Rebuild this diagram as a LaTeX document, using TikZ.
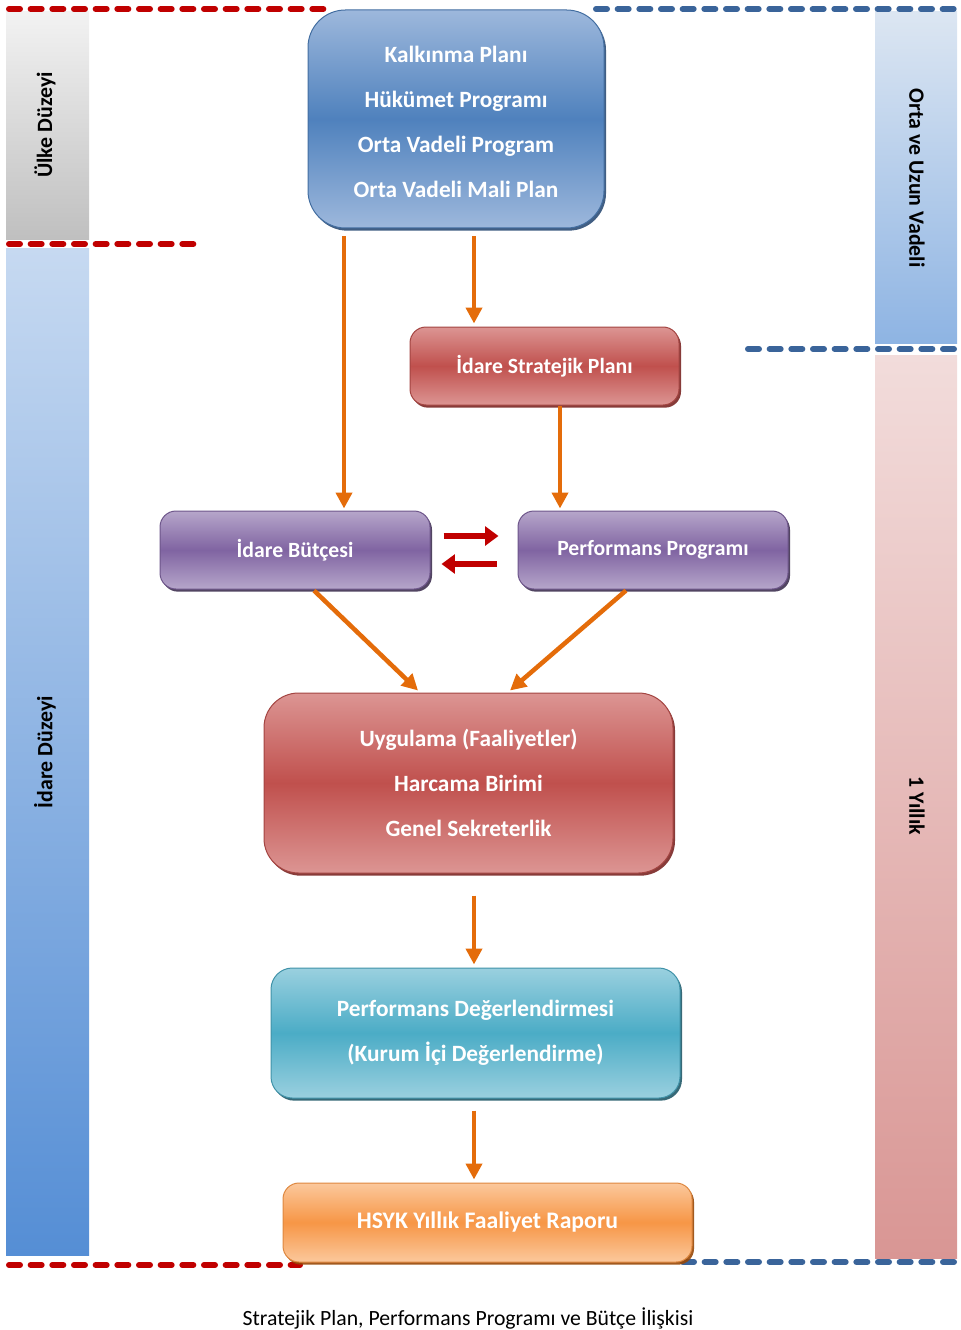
\documentclass[tikz,border=0pt]{standalone}
\usepackage{fontspec}
\setmainfont{Carlito}
\usetikzlibrary{calc,shadows,arrows.meta}
\definecolor{dred}{HTML}{C00000}
\definecolor{dblue}{HTML}{3A649A}
\definecolor{oarr}{HTML}{E46C0A}
\definecolor{bluel}{HTML}{9DB8DC}
\definecolor{bluem}{HTML}{4F81BD}
\definecolor{blued}{HTML}{2C4D75}
\definecolor{redl}{HTML}{DC9593}
\definecolor{redm}{HTML}{C0504D}
\definecolor{redd}{HTML}{7A2624}
\definecolor{purl}{HTML}{B6A6CA}
\definecolor{purm}{HTML}{8064A2}
\definecolor{purd}{HTML}{3F3151}
\definecolor{teal}{HTML}{9AD0DF}
\definecolor{tealm}{HTML}{4BACC6}
\definecolor{teald}{HTML}{215968}
\definecolor{orl}{HTML}{FBC89C}
\definecolor{orm}{HTML}{F79646}
\definecolor{ord}{HTML}{984807}
\tikzset{
  reddash/.style={draw=dred,line width=4.5pt,dash pattern=on 8.25pt off 8pt,line cap=round},
  bluedash/.style={draw=dblue,line width=4.5pt,dash pattern=on 8.25pt off 8pt,line cap=round},
  box/.style={rectangle,align=center,inner sep=0pt,text=white,line width=0.75pt,
    font=\bfseries\fontsize{17.5}{33.75}\selectfont},
  smallfont/.style={font=\bfseries\fontsize{16.3}{18}\selectfont},
  bluebox/.style={box,rounded corners=28pt,top color=bluel,bottom color=bluel,middle color=bluem,draw=bluem!85!black,
    drop shadow={shadow xshift=1.5pt,shadow yshift=-2pt,fill=blued,opacity=0.9}},
  redbox/.style={box,rounded corners=12pt,top color=redl,bottom color=redl,middle color=redm,draw=redm!85!black,
    drop shadow={shadow xshift=1.5pt,shadow yshift=-2pt,fill=redd,opacity=0.9}},
  purbox/.style={box,rounded corners=12pt,top color=purl,bottom color=purl,middle color=purm,draw=purm!85!black,
    drop shadow={shadow xshift=1.5pt,shadow yshift=-2pt,fill=purd,opacity=0.9}},
  tealbox/.style={box,rounded corners=16pt,top color=teal,bottom color=teal,middle color=tealm,draw=tealm!85!black,
    drop shadow={shadow xshift=1.5pt,shadow yshift=-2pt,fill=teald,opacity=0.9}},
  orbox/.style={box,rounded corners=12pt,top color=orl,bottom color=orl,middle color=orm,draw=orm!90!black,
    drop shadow={shadow xshift=1.5pt,shadow yshift=-2pt,fill=ord,opacity=0.9}},
  oarrow/.style={draw=oarr,line width=3.4pt,-{Triangle[length=12pt,width=12pt]}},
  rarrow/.style={draw=dred,line width=4.5pt,-{Triangle[length=10pt,width=14pt]}},
  sidelabel/.style={font=\bfseries\fontsize{16.4}{18}\selectfont,text=black},
}
\begin{document}
\begin{tikzpicture}[x=0.75pt,y=-0.75pt]
\useasboundingbox (0,0) rectangle (960,1330);
% side bars
\shade[top color=black!5,bottom color=black!25] (6,12) rectangle (89,240);
\shade[top color={rgb,255:red,198;green,217;blue,241},bottom color={rgb,255:red,85;green,142;blue,213}] (6,248) rectangle (89,1255);
\shade[top color={rgb,255:red,220;green,230;blue,242},bottom color={rgb,255:red,142;green,180;blue,227}] (875,12) rectangle (957,343);
\shade[top color={rgb,255:red,242;green,220;blue,219},bottom color={rgb,255:red,217;green,150;blue,148}] (875,355) rectangle (957,1258);
\node[sidelabel,rotate=90] (ulke) at (45,125) {Ülke Düzeyi};
\node[sidelabel,rotate=90] (idare) at (45,752) {İdare Düzeyi};
\node[sidelabel,rotate=-90] (orta) at (917,178) {Orta ve Uzun Vadeli};
\node[sidelabel,rotate=-90] (yillik) at (917,806) {1 Yıllık};
% dashed lines
\draw[reddash] (9,9) -- (324,9);
\draw[reddash] (9,244) -- (194,244);
\draw[reddash] (9,1265) -- (300,1265);
\draw[bluedash] (596,9) -- (955,9);
\draw[bluedash] (748,349) -- (955,349);
\draw[bluedash] (683,1262) -- (955,1262);
% boxes
\node[bluebox,minimum width=222pt,minimum height=163.5pt] (top) at (456,119)
  {\rule{0pt}{17pt}Kalkınma Planı\\Hükümet Programı\\Orta Vadeli Program\\Orta Vadeli Mali Plan};
\node[redbox,smallfont,minimum width=201.75pt,minimum height=58.5pt] (sp) at (544.5,366) {İdare Stratejik Planı};
\node[purbox,smallfont,minimum width=202.5pt,minimum height=58.5pt] (bud) at (295,550) {İdare Bütçesi};
\node[purbox,smallfont,minimum width=202.5pt,minimum height=58.5pt] (pp) at (653,550) {Performans Programı};
\node[redbox,rounded corners=26pt,minimum width=306.75pt,minimum height=135pt] (uyg) at (468.5,783)
  {Uygulama (Faaliyetler)\\Harcama Birimi\\Genel Sekreterlik};
\node[tealbox,minimum width=306.75pt,minimum height=97.5pt] (pd) at (475.5,1033)
  {Performans Değerlendirmesi\\(Kurum İçi Değerlendirme)};
\node[orbox,font=\bfseries\fontsize{17.8}{20}\selectfont,minimum width=306.75pt,minimum height=59.25pt] (hsyk) at (487.5,1222.5) {HSYK Yıllık Faaliyet Raporu};
% caption
\node[font=\fontsize{16.3}{18}\selectfont] (cap) at (468,1318) {Stratejik Plan, Performans Programı ve Bütçe İlişkisi};
% arrows
\draw[oarrow] ($(top.south)+(-112,8)$) -- ($(bud.north)+(49,-2)$);
\draw[oarrow] ($(top.south)+(18,8)$) -- ($(sp.north)+(-70.5,-3)$);
\draw[oarrow] ($(sp.south)+(15.5,0)$) -- ($(pp.north)+(-93,-2)$);
\draw[oarrow] ($(bud.south)+(19,1)$) -- ($(uyg.north)+(-50.5,-2)$);
\draw[oarrow] ($(pp.south)+(-27,1)$) -- ($(uyg.north)+(41.5,-2)$);
\draw[oarrow] ($(uyg.south)+(5.5,22)$) -- ($(pd.north)+(-1.5,-3)$);
\draw[oarrow] ($(pd.south)+(-1.5,12)$) -- ($(hsyk.north)+(-13.5,-3)$);
\draw[rarrow] ($(bud.east)+(13,-14)$) -- ($(pp.west)+(-19,-14)$);
\draw[rarrow] ($(pp.west)+(-21,14)$) -- ($(bud.east)+(11,14)$);
\end{tikzpicture}
\end{document}
